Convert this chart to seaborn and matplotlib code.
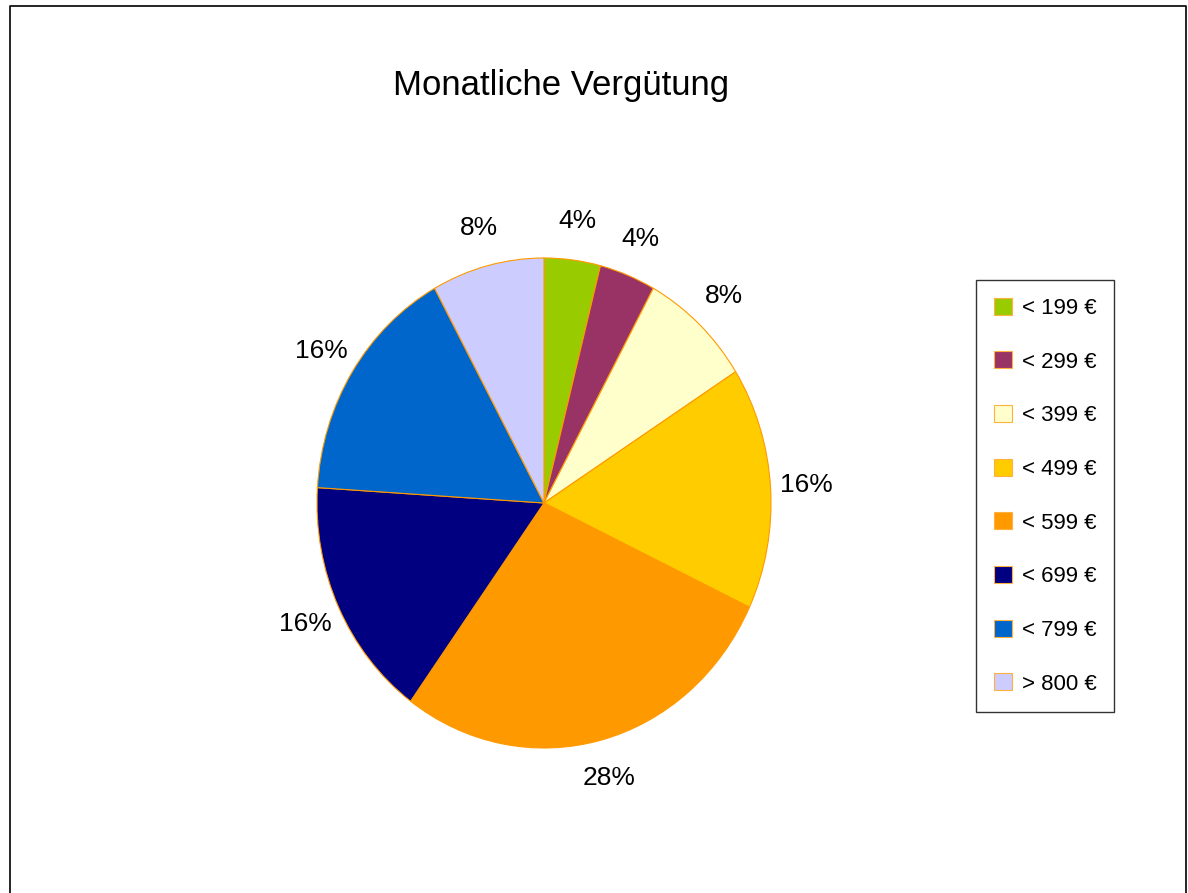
import matplotlib
matplotlib.use("Agg")
import matplotlib.pyplot as plt
import seaborn as sns
from matplotlib.lines import Line2D
from matplotlib.patches import Patch

categories = ["< 199 €", "< 299 €", "< 399 €", "< 499 €", "< 599 €", "< 699 €", "< 799 €", "> 800 €"]
values = [4, 4, 8, 16, 28, 16, 16, 8]
colors = ["#99CC00", "#993366", "#FFFFCC", "#FFCC00", "#FF9900", "#000080", "#0066CC", "#CCCCFF"]
title = "Monatliche Vergütung"

sns.set_theme(style="white")
plt.rcParams['font.family'] = ['Liberation Sans Narrow', 'Liberation Sans', 'DejaVu Sans']
plt.rcParams['text.color'] = 'black'

W, H = 1188, 893
fig = plt.figure(figsize=(W / 100, H / 100), dpi=100)

# pie axes: x 317-771, y 258-748 (pixels)
ax = fig.add_axes([317 / W, 1 - 748 / H, 454 / W, 490 / H])
wedges, texts, autotexts = ax.pie(
    values, colors=colors, startangle=90, counterclock=False,
    autopct=lambda p: f"{p:.0f}%", pctdistance=1.16,
    wedgeprops=dict(edgecolor="#FF9900", linewidth=0.8),
    textprops=dict(fontsize=19, color="black"),
)
ax.set_aspect('auto')
ax.set_xlim(-1, 1)
ax.set_ylim(-1, 1)
ax.axis('off')

fig.text(561 / W, 1 - 85 / H, title, ha='center', va='center', fontsize=25, color='black')

handles = [Patch(facecolor=c, edgecolor="#FFB040", linewidth=0.8) for c in colors]
leg = fig.legend(handles, categories, loc='upper left',
                 bbox_to_anchor=(976 / W, 1 - 280 / H), fontsize=16,
                 frameon=True, fancybox=False, edgecolor='black',
                 handlelength=0.8, handleheight=0.8, handletextpad=0.45,
                 labelspacing=1.46, borderpad=0.8, borderaxespad=0)
leg.get_frame().set_linewidth(1.0)
for t in leg.get_texts():
    t.set_color('black')

# outer frame (left, top, right edges)
fig.add_artist(Line2D([10 / W, 10 / W, 1186 / W, 1186 / W],
                      [0, 1 - 6 / H, 1 - 6 / H, 0],
                      transform=fig.transFigure, color='black', linewidth=1.2))

fig.savefig("out.png", dpi=100, facecolor='white')
